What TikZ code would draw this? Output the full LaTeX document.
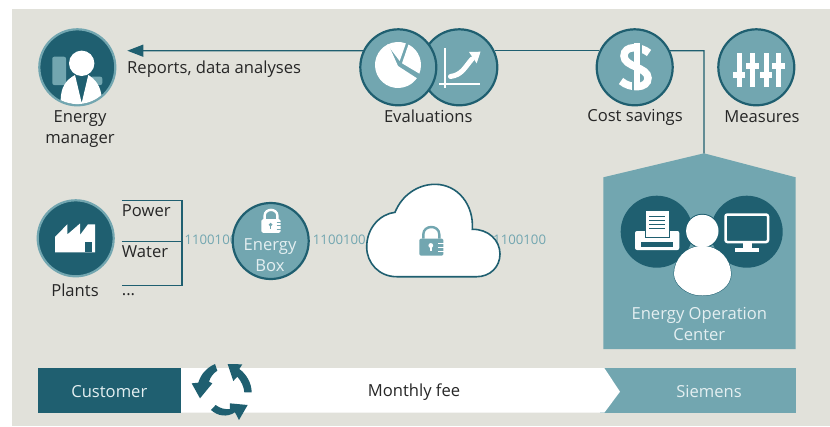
\documentclass[tikz,border=0pt]{standalone}
\usepackage{fontspec}
\setmainfont{Open Sans}
\usepackage{tikz}
\usetikzlibrary{arrows.meta}
\definecolor{dkteal}{HTML}{1F5F70}
\definecolor{ltteal}{HTML}{72A6B0}
\definecolor{panel}{HTML}{E1E1DA}
\definecolor{palewhite}{HTML}{E4EFF1}
\tikzset{
  txt/.style={font=\fontsize{16.6}{21}\selectfont,text=black!85,align=center,inner sep=0pt},
  wtxt/.style={font=\fontsize{16.6}{21}\selectfont,text=palewhite,align=center,inner sep=0pt},
  bits/.style={font=\fontsize{13.2}{15}\selectfont,text=ltteal,inner sep=0pt,anchor=west},
  ltdisc/.style={circle,draw=dkteal,line width=2.2pt,fill=ltteal,minimum size=76pt,inner sep=0pt},
  dkdisc/.style={circle,draw=ltteal,line width=2.2pt,fill=dkteal,minimum size=76pt,inner sep=0pt},
  link/.style={draw=dkteal,line width=1.3pt},
}
\newcommand{\lockicon}[4]{
  \begin{scope}[shift={(#1)},scale=#2]
    \draw[#3,line width=2.4pt] (-8,-3) -- (-8,-7) .. controls (-8,-17) and (8,-17) .. (8,-7) -- (8,-3);
    \fill[#3,rounded corners=1.5pt] (-12,-3) rectangle (12,14.2);
    \fill[#4] (-0.5,4) circle (2.4);
    \fill[#4] (-1.5,4) rectangle (0.5,9.5);
    \foreach \y in {1.5,5.5,9.5}
      \draw[#4,line width=1pt] (7,\y) -- (12.5,\y);
  \end{scope}
}
\begin{document}
\begin{tikzpicture}[x=1pt,y=-1pt]
  \useasboundingbox (0,0) rectangle (830,426);
  \fill[panel] (12,9) rectangle (830,426);

  \node (mgr) [dkdisc] at (77.3,67.3) {};
  \node (evb) [ltdisc] at (459.3,67.3) {};
  \node (eva) [ltdisc] at (398.3,67.3) {};
  \node (cost) [ltdisc] at (634.7,67.3) {};
  \node (meas) [ltdisc] at (756.3,67.3) {};
  \coordinate (tip) at (127.3,50.7);
  \coordinate (bend) at (704,50.7);
  \coordinate (apex) at (704,153.3);
  \fill[ltteal] (603.3,349) -- (603.3,177.3) -- (apex) -- (795.7,177.3) -- (795.7,349) -- cycle;
  \draw[link] (cost.25) -- (bend) -- (apex);
  \draw[link] (evb.25) -- (cost.155);
  \draw[link,-{Triangle[length=16pt,width=12pt]},dkteal] (eva.155) -- (tip);

  \begin{scope}
    \clip (77.3,67.3) circle (36.8);
    \fill[ltteal,rounded corners=2pt] (52.3,56.7) rectangle (66,85);
    \fill[ltteal,rounded corners=2pt] (90,76.7) rectangle (102.3,85);
    \fill[white] (60.7,99.3) .. controls (61,87) and (66,80) .. (75,75) -- (81.7,103) -- (88.3,75) .. controls (95,79) and (101,86) .. (101.7,98) -- (101.7,110) -- (60.7,110) -- cycle;
    \fill[white] (81.7,63.3) circle (12.7);
  \end{scope}
  \node (mgrlab) [txt] at (80,129) {Energy\\manager};
  \node (replab) [txt,anchor=west] at (127,69.5) {Reports, data analyses};
  \node (evlab) [txt] at (428.3,116.7) {Evaluations};
  \node (costlab) [txt] at (635,117.7) {Cost savings};
  \node (measlab) [txt] at (762,116.7) {Measures};

  \begin{scope}[shift={(398,65)}]
    \fill[white] (0,1) -- (-115:23) arc (-115:-325:23) -- cycle;
    \fill[white] (1.7,-4) -- (-118:23) arc (-118:-70:23) -- cycle;
    \fill[white] (4,-1.7) -- (-63:23) arc (-63:22:23) -- cycle;
  \end{scope}
  \draw[white,line width=2pt] (445.3,48.3) -- (445.3,88.3);
  \draw[white,line width=2pt] (439.3,84.3) -- (480,84.3);
  \draw[white,line width=5pt,line cap=round] (450.5,76.5) .. controls (462,75) and (465,67) .. (472,59);
  \fill[white] (480.5,51.7) -- (469,52) -- (476.7,63.3) -- cycle;

  \draw[white,line width=7.5pt] (649,53) .. controls (641,46) and (624,45) .. (624,56) .. controls (624,67) and (648,67) .. (648,78) .. controls (648,89) and (630,89) .. (621,81);
  \draw[ltteal,line width=1.5pt] (641.2,40) -- (641.2,62);
  \draw[ltteal,line width=1.5pt] (632.8,74) -- (632.8,95);
  \fill[white] (634,43.3) rectangle (640,90);

  \foreach \x/\k in {739/75,752.7/65.5,766/75,778.3/65.5} {
    \fill[white] (\x-2.5,53.3) rectangle (\x+2.5,86.7);
    \fill[white] (\x-6.3,\k-3) rectangle (\x+6.3,\k+3);
  }

  \node (plant) [dkdisc] at (75.7,238.3) {};
  \fill[white] (55,252.3) -- (55,237) -- (67.3,224.3) -- (67.3,234.5) -- (80,223.5) -- (80,235) -- (88,224.3) -- (95,224.3) -- (95,252.3) -- cycle;
  \fill[dkteal] (85,241.7) rectangle (92.3,252.3);
  \node (plantlab) [txt] at (75,290) {Plants};

  \coordinate (pa) at (121.7,200.7);
  \coordinate (pb) at (182,200.7);
  \coordinate (wa) at (121.7,241.3);
  \coordinate (wb) at (182,241.3);
  \coordinate (xa) at (121.7,285.7);
  \coordinate (xb) at (182,285.7);
  \draw[link] (pa) -- (pb) -- (xb) -- (xa);
  \draw[link] (wa) -- (wb);
  \node (power) [txt,anchor=west] at (121.7,210.5) {Power};
  \node (water) [txt,anchor=west] at (121.7,251.7) {Water};
  \node (more) [txt,anchor=west] at (121.7,295) {...};

  \node (bita) [bits] at (184.3,240) {1100100};
  \node (bitb) [bits] at (312.7,240) {1100100};
  \node (bitc) [bits] at (493,240) {1100100};

  \node (box) [ltdisc] at (270.7,241) {};
  \lockicon{271,221.5}{0.8}{white}{ltteal}
  \node (boxlab) [wtxt] at (270,255.3) {Energy\\Box};

  \draw[draw=dkteal,fill=white,line width=1.6pt] (396.7,276.7) .. controls (379,276.7) and (366.7,263) .. (366.7,247) .. controls (366.7,228) and (380,214) .. (395,212.3) .. controls (402,195) and (418,184.3) .. (435,184.3) .. controls (458,184.3) and (474,205) .. (472.3,229.3) .. controls (488,229) and (500,240) .. (500,254) .. controls (500,267) and (490,276.7) .. (476.7,276.7) -- cycle;
  \lockicon{431.3,241.5}{1}{ltteal}{white}

  \fill[dkteal] (656.7,231.7) circle (36);
  \fill[dkteal] (746.7,231.7) circle (36);
  \fill[white,rounded corners=2pt] (635,231) rectangle (679.3,250);
  \fill[dkteal] (640.7,241.7) rectangle (672.7,247.3);
  \draw[dkteal,fill=white,line width=0.6pt] (645,210) rectangle (669.3,237.3);
  \foreach \y in {216,220.7,224.7,228.3}
    \draw[dkteal,line width=1pt] (649.3,\y) -- (665,\y);
  \draw[white,line width=2.5pt,rounded corners=2pt] (725.5,214.5) rectangle (768,242);
  \fill[white] (742.7,243) rectangle (751.7,249);
  \fill[white] (735,248.3) rectangle (759,252.3);
  \draw[dkteal,line width=1pt] (702.3,231) circle (16.7);
  \draw[dkteal,line width=1pt] (702.3,246) .. controls (685,246) and (674,260) .. (674,274) .. controls (674,283) and (685,295.5) .. (702.3,295.5) .. controls (720,295.5) and (731,285) .. (731,274) .. controls (731,260) and (720,246) .. (702.3,246);
  \fill[white] (702.3,231) circle (16.2);
  \fill[white] (702.3,246) .. controls (685,246) and (674,260) .. (674,274) .. controls (674,283) and (685,295.5) .. (702.3,295.5) .. controls (720,295.5) and (731,285) .. (731,274) .. controls (731,260) and (720,246) .. (702.3,246);
  \node (opslab) [wtxt] at (699.3,323.8) {Energy Operation\\Center};

  \fill[dkteal] (37.7,368) rectangle (181,412.7);
  \fill[ltteal] (600,368) rectangle (796,412.7);
  \fill[white] (181,368) -- (604.3,368) -- (620,391.7) -- (604.3,412.7) -- (181,412.7) -- cycle;
  \node (cust) [wtxt] at (109.3,391.7) {Customer};
  \node (fee) [txt] at (414,391.7) {Monthly fee};
  \node (siem) [wtxt] at (709,391.7) {Siemens};

  \begin{scope}[shift={(185,355)},x=0.3333pt,y=-0.3333pt]
    \fill[dkteal] (90,27) -- (97,47) .. controls (85,55) and (76,66) .. (72,80) -- (82,85) -- (45,130) -- (20,85) -- (40,83) .. controls (47,58) and (65,38) .. (90,27) -- cycle;
    \fill[dkteal] (128,27) -- (172,28) -- (163,42) .. controls (185,58) and (200,85) .. (200,112) -- (178,112) .. controls (177,95) and (168,78) .. (157,65) -- (145,78) -- cycle;
    \fill[dkteal] (78,165) -- (92,150) .. controls (105,160) and (120,164) .. (135,162) -- (135,145) -- (188,150) -- (162,195) -- (150,172) .. controls (125,188) and (98,183) .. (78,165) -- cycle;
  \end{scope}
\end{tikzpicture}
\end{document}
